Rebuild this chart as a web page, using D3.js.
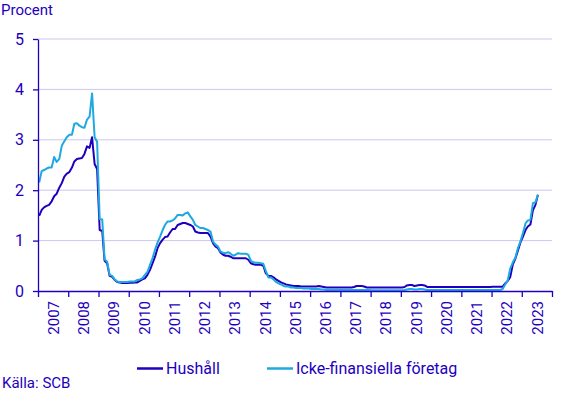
<!DOCTYPE html>
<html>
<head>
<meta charset="utf-8">
<script src="https://cdn.jsdelivr.net/npm/d3@7"></script>
<style>
  body { margin: 0; background: #fff; }
  text { font-family: Roboto, "Liberation Sans", sans-serif; fill: #1e00be; }
</style>
</head>
<body>
<div id="chart"></div>
<script>
// monthly values, Jan 2007 .. Jul 2023
const startYear = 2007
const years = d3.range(2007, 2024)
const yTicks = [0, 1, 2, 3, 4, 5]
const seriesNames = ["Hushåll", "Icke-finansiella företag"]

const hushall = [
  1.49, 1.61, 1.66, 1.69, 1.71, 1.78, 1.88, 1.93, 2.05, 2.14, 2.27, 2.33, // 2007
  2.36, 2.45, 2.57, 2.62, 2.63, 2.64, 2.72, 2.87, 2.84, 3.05, 2.52, 2.42, // 2008
  1.21, 1.19, 0.60, 0.55, 0.30, 0.28, 0.22, 0.18, 0.17, 0.16, 0.16, 0.16, // 2009
  0.165, 0.165, 0.17, 0.17, 0.20, 0.23, 0.25, 0.32, 0.42, 0.55, 0.68, 0.85, // 2010
  0.95, 1.02, 1.07, 1.08, 1.16, 1.23, 1.23, 1.31, 1.33, 1.35, 1.35, 1.33, // 2011
  1.31, 1.28, 1.18, 1.16, 1.15, 1.15, 1.15, 1.15, 1.08, 0.95, 0.88, 0.85, // 2012
  0.76, 0.72, 0.70, 0.70, 0.68, 0.65, 0.65, 0.65, 0.65, 0.65, 0.65, 0.62, // 2013
  0.55, 0.53, 0.52, 0.52, 0.52, 0.50, 0.35, 0.30, 0.30, 0.27, 0.23, 0.20, // 2014
  0.17, 0.15, 0.13, 0.12, 0.11, 0.10, 0.10, 0.10, 0.09, 0.09, 0.09, 0.09, // 2015
  0.09, 0.09, 0.09, 0.10, 0.09, 0.08, 0.07, 0.07, 0.07, 0.07, 0.07, 0.07, // 2016
  0.07, 0.07, 0.07, 0.07, 0.07, 0.08, 0.10, 0.10, 0.10, 0.09, 0.07, 0.07, // 2017
  0.07, 0.07, 0.07, 0.07, 0.07, 0.07, 0.07, 0.07, 0.07, 0.07, 0.07, 0.07, // 2018
  0.07, 0.08, 0.11, 0.12, 0.12, 0.10, 0.11, 0.12, 0.12, 0.11, 0.08, 0.08, // 2019
  0.08, 0.08, 0.08, 0.08, 0.08, 0.08, 0.08, 0.08, 0.08, 0.08, 0.08, 0.08, // 2020
  0.08, 0.08, 0.08, 0.08, 0.08, 0.08, 0.08, 0.08, 0.08, 0.08, 0.08, 0.08, // 2021
  0.085, 0.085, 0.085, 0.085, 0.085, 0.15, 0.20, 0.28, 0.53, 0.64, 0.80, 0.96, // 2022
  1.08, 1.21, 1.28, 1.32, 1.60, 1.71, 1.91 // 2023
]

const foretag = [
  2.15, 2.38, 2.40, 2.43, 2.45, 2.45, 2.66, 2.56, 2.62, 2.88, 2.97, 3.05, // 2007
  3.10, 3.10, 3.32, 3.33, 3.28, 3.25, 3.24, 3.40, 3.46, 3.92, 3.05, 2.96, // 2008
  1.43, 1.42, 0.63, 0.58, 0.32, 0.30, 0.23, 0.19, 0.18, 0.18, 0.18, 0.18, // 2009
  0.19, 0.19, 0.19, 0.22, 0.23, 0.25, 0.32, 0.38, 0.52, 0.65, 0.82, 0.96, // 2010
  1.08, 1.21, 1.31, 1.38, 1.38, 1.40, 1.44, 1.51, 1.51, 1.50, 1.54, 1.56, // 2011
  1.48, 1.41, 1.31, 1.28, 1.25, 1.25, 1.23, 1.21, 1.18, 0.98, 0.92, 0.88, // 2012
  0.78, 0.76, 0.75, 0.77, 0.74, 0.70, 0.72, 0.75, 0.74, 0.74, 0.74, 0.72, // 2013
  0.60, 0.57, 0.56, 0.56, 0.55, 0.54, 0.40, 0.27, 0.27, 0.23, 0.18, 0.15, // 2014
  0.13, 0.10, 0.09, 0.09, 0.07, 0.07, 0.06, 0.06, 0.06, 0.05, 0.05, 0.05, // 2015
  0.04, 0.04, 0.04, 0.04, 0.03, 0.03, 0.02, 0.02, 0.02, 0.02, 0.02, 0.02, // 2016
  0.02, 0.02, 0.02, 0.02, 0.02, 0.02, 0.02, 0.02, 0.02, 0.02, 0.02, 0.02, // 2017
  0.015, 0.015, 0.015, 0.015, 0.015, 0.015, 0.015, 0.015, 0.015, 0.015, 0.015, 0.015, // 2018
  0.015, 0.02, 0.03, 0.04, 0.04, 0.03, 0.03, 0.04, 0.04, 0.03, 0.02, 0.02, // 2019
  0.02, 0.02, 0.02, 0.02, 0.02, 0.02, 0.02, 0.02, 0.02, 0.02, 0.02, 0.02, // 2020
  0.02, 0.02, 0.02, 0.02, 0.02, 0.02, 0.02, 0.02, 0.02, 0.02, 0.02, 0.02, // 2021
  0.02, 0.02, 0.02, 0.02, 0.04, 0.13, 0.21, 0.45, 0.57, 0.66, 0.85, 0.98, // 2022
  1.15, 1.34, 1.40, 1.41, 1.74, 1.76, 1.91 // 2023
]

const colors = ["#1e00be", "#1fa9e1"]
const gridColor = "#c9c9ef"

const width = 567, height = 394
const margin = {top: 39, right: 15, bottom: 103, left: 38}

const svg = d3.select("#chart").append("svg")
    .attr("width", width)
    .attr("height", height)

const xScale = d3.scaleTime()
    .domain([new Date(startYear, 0, 1), new Date(2024, 0, 1)])
    .range([margin.left, width - margin.right])
const yScale = d3.scaleLinear()
    .domain([0, 5])
    .range([height - margin.bottom, margin.top])

const monthDate = (i) => new Date(startYear + Math.floor(i / 12), i % 12, 15)

// grid
svg.append("g").attr("class", "grid")
    .selectAll("line")
    .data(yTicks.filter(d => d > 0))
    .enter().append("line")
    .attr("x1", margin.left)
    .attr("x2", width - margin.right)
    .attr("y1", d => yScale(d))
    .attr("y2", d => yScale(d))
    .attr("stroke", gridColor)
    .attr("stroke-width", 1)

// lines
const line = d3.line()
    .x((d, i) => xScale(monthDate(i)))
    .y(d => yScale(d))

;[hushall, foretag].forEach((s, k) => {
    svg.append("path")
        .datum(s)
        .attr("fill", "none")
        .attr("stroke", colors[k])
        .attr("stroke-width", 2)
        .attr("stroke-linejoin", "round")
        .attr("d", line)
})

// y axis
const yAxis = svg.append("g")
    .attr("transform", `translate(${margin.left},0)`)
    .call(d3.axisLeft(yScale).tickValues(yTicks).tickFormat(d3.format("d"))
        .tickSize(5).tickPadding(9).tickSizeOuter(0))
yAxis.select(".domain").attr("stroke", colors[0]).attr("stroke-width", 1.3)
yAxis.selectAll(".tick line").attr("stroke", colors[0]).attr("stroke-width", 1.3)
yAxis.selectAll(".tick text")
    .style("font-size", "16px")
    .style("fill", colors[0])

// x axis: ticks at year boundaries, labels centred in each year
const yearStarts = years.concat([2024]).map(y => new Date(y, 0, 1))
const xAxis = svg.append("g")
    .attr("transform", `translate(0,${height - margin.bottom})`)
    .call(d3.axisBottom(xScale).tickValues(yearStarts).tickSize(6).tickSizeOuter(0)
        .tickFormat(d => d.getFullYear() < 2024 ? d.getFullYear() : ""))
xAxis.select(".domain").attr("stroke", colors[0]).attr("stroke-width", 1.3)
xAxis.selectAll(".tick line").attr("stroke", colors[0]).attr("stroke-width", 1.3)
const halfBand = (xScale(yearStarts[1]) - xScale(yearStarts[0])) / 2
xAxis.selectAll(".tick text")
    .attr("transform", "rotate(-90)")
    .attr("text-anchor", "end")
    .attr("x", -10)
    .attr("y", halfBand)
    .attr("dy", "0.35em")
    .style("font-size", "15px")
    .style("fill", colors[0])

// titles
svg.append("text")
    .attr("x", 1)
    .attr("y", 15)
    .style("font-size", "15px")
    .text("Procent")

svg.append("text")
    .attr("x", 2)
    .attr("y", 388)
    .style("font-size", "15px")
    .text("Källa: SCB")

// legend
const legendX = [137, 267]
const legend = svg.append("g").attr("class", "legend")
seriesNames.forEach((name, k) => {
    legend.append("line")
        .attr("x1", legendX[k])
        .attr("x2", legendX[k] + 26)
        .attr("y1", 368.5)
        .attr("y2", 368.5)
        .attr("stroke", colors[k])
        .attr("stroke-width", 2.5)
    legend.append("text")
        .attr("x", legendX[k] + 29)
        .attr("y", 374)
        .style("font-size", "16px")
        .text(name)
})
</script>
</body>
</html>
